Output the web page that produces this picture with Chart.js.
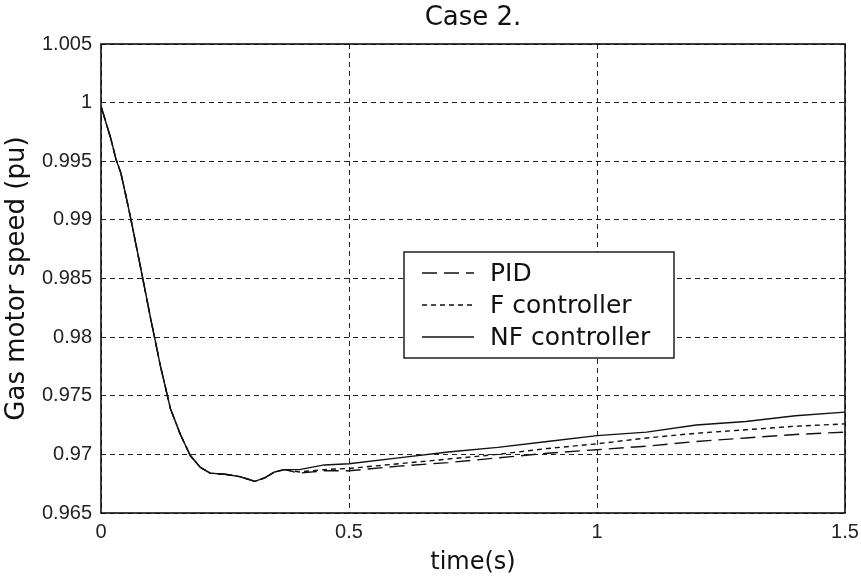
<!DOCTYPE html>
<html>
<head>
<meta charset="utf-8">
<script src="https://cdn.jsdelivr.net/npm/chart.js@4.4.1/dist/chart.umd.min.js"></script>
<style>
  html, body { margin: 0; padding: 0; background: #fff; }
  #wrap { width: 861px; height: 577px; position: relative; }
</style>
</head>
<body>
<div id="wrap"><canvas id="speedGraph"></canvas></div>
<script>
// time samples (s)
const timeCommon = [0, 0.02, 0.03, 0.04, 0.05, 0.06, 0.08, 0.1, 0.12, 0.14, 0.16, 0.18, 0.2, 0.22, 0.25, 0.28, 0.31, 0.33, 0.35, 0.37];
const speedCommon = [0.9997, 0.9969, 0.9952, 0.9940, 0.9921, 0.9901, 0.9859, 0.9816, 0.9775, 0.9739, 0.9717, 0.9699, 0.9689, 0.9684, 0.9683, 0.9681, 0.9677, 0.9680, 0.9685, 0.9687];

const timeTail = [0.4, 0.45, 0.5, 0.6, 0.7, 0.8, 0.9, 1.0, 1.1, 1.2, 1.3, 1.4, 1.5];
const pidTail = [0.9684, 0.9686, 0.9686, 0.9690, 0.9693, 0.9697, 0.9701, 0.9704, 0.9707, 0.9711, 0.9714, 0.9717, 0.9719];
const fTail   = [0.9685, 0.9687, 0.9688, 0.9692, 0.9696, 0.9700, 0.9705, 0.9709, 0.9714, 0.9718, 0.9721, 0.9724, 0.9726];
const nfTail  = [0.9687, 0.9691, 0.9692, 0.9697, 0.9702, 0.9706, 0.9711, 0.9716, 0.9719, 0.9725, 0.9728, 0.9733, 0.9736];

const seriesNames = ['PID', 'F controller', 'NF controller'];
const chartTitle = 'Case 2.';
const xTicks = [0, 0.5, 1, 1.5];
const yTicks = [0.965, 0.97, 0.975, 0.98, 0.985, 0.99, 0.995, 1, 1.005];

function toPoints(tail) {
  const t = timeCommon.concat(timeTail);
  const v = speedCommon.concat(tail);
  return t.map((x, i) => ({ x, y: v[i] }));
}

const wideFont = '"DejaVu Sans", Arial, sans-serif';
const tickFont = { family: '"Liberation Sans", Arial, sans-serif', size: 20 };

// title over plot area, box round the plot area, legend box
const framePlugin = {
  id: 'frame',
  afterDraw(chart) {
    const ctx = chart.ctx;
    const a = chart.chartArea;
    ctx.save();

    ctx.fillStyle = '#111';
    ctx.font = '26px ' + wideFont;
    ctx.textAlign = 'center';
    ctx.textBaseline = 'middle';
    ctx.fillText(chartTitle, (a.left + a.right) / 2, 18);
    ctx.textAlign = 'left';

    ctx.strokeStyle = '#111';
    ctx.lineWidth = 1.6;
    ctx.setLineDash([]);
    ctx.strokeRect(a.left, a.top, a.right - a.left, a.bottom - a.top);

    // legend
    const bx = 404, by = 252, bw = 270, bh = 106;
    ctx.fillStyle = '#fff';
    ctx.fillRect(bx, by, bw, bh);
    ctx.lineWidth = 1.4;
    ctx.strokeRect(bx, by, bw, bh);
    ctx.font = '25px ' + wideFont;
    chart.data.datasets.forEach((ds, i) => {
      const yy = by + 21 + i * 32;
      ctx.strokeStyle = '#111';
      ctx.lineWidth = 1.4;
      ctx.setLineDash(ds.borderDash || []);
      ctx.beginPath();
      ctx.moveTo(bx + 18, yy);
      ctx.lineTo(bx + 70, yy);
      ctx.stroke();
      ctx.setLineDash([]);
      ctx.fillStyle = '#111';
      ctx.fillText(ds.label, bx + 86, yy + 1);
    });
    ctx.restore();
  }
};

new Chart(document.getElementById('speedGraph').getContext('2d'), {
  type: 'line',
  data: {
    datasets: [{
      label: seriesNames[0],
      data: toPoints(pidTail),
      borderColor: '#111',
      borderWidth: 1.4,
      borderDash: [15, 7],
      pointRadius: 0,
      fill: false
    },
    {
      label: seriesNames[1],
      data: toPoints(fTail),
      borderColor: '#111',
      borderWidth: 1.4,
      borderDash: [5, 4],
      pointRadius: 0,
      fill: false
    },
    {
      label: seriesNames[2],
      data: toPoints(nfTail),
      borderColor: '#111',
      borderWidth: 1.4,
      pointRadius: 0,
      fill: false
    }]
  },
  options: {
    responsive: true,
    maintainAspectRatio: false,
    animation: false,
    layout: { padding: { right: 16, left: 0, bottom: 0, top: 44 } },
    plugins: {
      legend: { display: false },
      tooltip: { enabled: false },
      title: { display: false }
    },
    scales: {
      x: {
        type: 'linear',
        min: 0,
        max: 1.5,
        afterBuildTicks: s => { s.ticks = xTicks.map(v => ({ value: v })); },
        afterFit: s => { s.height = 64; s.paddingRight = 0; s.paddingLeft = 0; },
        ticks: {
          color: '#222',
          font: tickFont,
          padding: 7,
          maxRotation: 0,
          callback: v => String(v)
        },
        grid: {
          color: '#222',
          lineWidth: 1,
          drawTicks: false
        },
        border: { display: false, dash: [5, 4] },
        title: {
          display: true,
          text: 'time(s)',
          color: '#111',
          font: { family: wideFont, size: 24 },
          padding: { top: 0, bottom: 0 }
        }
      },
      y: {
        type: 'linear',
        min: 0.965,
        max: 1.005,
        afterBuildTicks: s => { s.ticks = yTicks.map(v => ({ value: v })); },
        afterFit: s => { s.width = 101; s.paddingTop = 0; s.paddingBottom = 0; },
        ticks: {
          color: '#222',
          font: tickFont,
          padding: 9,
          callback: v => String(Number(v.toFixed(3)))
        },
        grid: {
          color: '#222',
          lineWidth: 1,
          drawTicks: false
        },
        border: { display: false, dash: [5, 4] },
        title: {
          display: true,
          text: 'Gas motor speed (pu)',
          color: '#111',
          font: { family: wideFont, size: 26 },
          padding: { top: 2, bottom: 0 }
        }
      }
    }
  },
  plugins: [framePlugin]
});
</script>
</body>
</html>
